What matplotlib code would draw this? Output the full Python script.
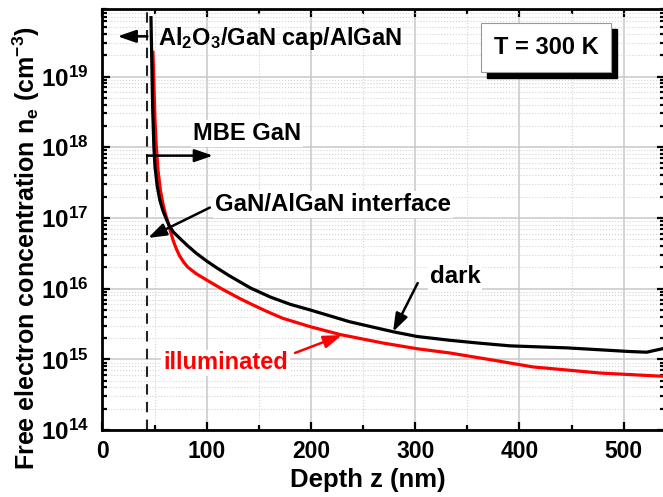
import numpy as np
import matplotlib
matplotlib.use("Agg")
import matplotlib.pyplot as plt
from matplotlib.ticker import MultipleLocator, LogLocator, FuncFormatter, NullFormatter
from matplotlib.transforms import ScaledTranslation

plt.rcParams['font.family'] = ['Liberation Sans', 'DejaVu Sans']
plt.rcParams['font.weight'] = 'bold'
plt.rcParams['mathtext.fontset'] = 'custom'
plt.rcParams['mathtext.rm'] = 'Liberation Sans:bold'
plt.rcParams['mathtext.it'] = 'Liberation Sans:bold'
plt.rcParams['mathtext.bf'] = 'Liberation Sans:bold'

# depth (nm) and free electron concentration (cm^-3)
depth_dark = [46.5, 47.3, 48.2, 49.3, 50.4, 52.5, 55, 58, 61, 64, 68, 75, 82, 90, 100,
              110, 122, 142, 161, 180, 199, 237, 279, 302, 333, 360, 391, 446, 505, 522, 538]
ne_dark = [6.8e19, 1.6e19, 3.2e18, 1.0e18, 5.2e17, 2.8e17, 1.78e17, 1.26e17, 9.8e16, 7.8e16,
           6.3e16, 5.0e16, 4.0e16, 3.16e16, 2.45e16, 1.95e16, 1.51e16, 1.02e16, 7.6e15,
           6.0e15, 5.0e15, 3.4e15, 2.45e15, 2.1e15, 1.86e15, 1.7e15, 1.55e15, 1.45e15,
           1.29e15, 1.26e15, 1.42e15]

depth_ill = [48.4, 49.4, 50.4, 51.5, 53.2, 55.5, 58, 60.5, 63, 65.5, 68, 71, 74, 78, 82,
             90, 100, 115, 132, 142, 157, 173, 199, 228, 269, 302, 333, 370, 413, 477, 538]
ne_ill = [2.2e19, 7.0e18, 2.4e18, 1.1e18, 4.8e17, 2.5e17, 1.58e17, 1.12e17, 8.5e16, 6.2e16,
          4.7e16, 3.6e16, 2.9e16, 2.35e16, 2.0e16, 1.62e16, 1.32e16, 9.8e15, 7.2e15, 6.1e15,
          4.8e15, 3.8e15, 2.9e15, 2.24e15, 1.7e15, 1.41e15, 1.23e15, 1.0e15, 7.8e14, 6.4e14,
          5.75e14]

interface_z = 43

fig = plt.figure(figsize=(6.63, 4.97), dpi=100)
ax = fig.add_axes([0.1546, 0.1348, 0.849, 0.847])

ax.set_yscale('log')
ax.set_xlim(0, 540)
ax.set_ylim(1e14, 9e19)

ax.plot(depth_dark, ne_dark, color='black', lw=2.3, zorder=4, solid_joinstyle='round')
ax.plot(depth_ill, ne_ill, color='red', lw=2.3, zorder=3, solid_joinstyle='round')
ax.axvline(interface_z, color='#222222', lw=1.5, dashes=(5, 3.5), zorder=2)

# grid
ax.set_axisbelow(True)
ax.xaxis.set_major_locator(MultipleLocator(100))
ax.xaxis.set_minor_locator(MultipleLocator(50))
ax.yaxis.set_major_locator(LogLocator(base=10, numticks=20))
ax.yaxis.set_minor_locator(LogLocator(base=10, subs=np.arange(2, 10), numticks=20))
ax.yaxis.set_minor_formatter(NullFormatter())
ax.yaxis.set_major_formatter(FuncFormatter(lambda v, p: r'$10^{%d}$' % round(np.log10(v))))
ax.grid(which='major', color='#c8c8c8', lw=1.1, ls='-')
ax.grid(which='minor', color='#d4d4d4', lw=0.8, ls=':')

for s in ax.spines.values():
    s.set_linewidth(2)
ax.tick_params(which='both', direction='in', top=True, right=True, width=1.6)
ax.tick_params(which='major', length=6)
ax.tick_params(axis='x', which='major', pad=7, labelsize=16.5)
ax.tick_params(axis='y', which='major', pad=10, labelsize=17.5)
ax.tick_params(which='minor', length=3.5)

ax.set_xlabel('Depth z (nm)', fontsize=18.5, fontweight='bold')
ax.set_ylabel('Free electron concentration n$_e$ (cm$^{-3}$)', fontsize=18, fontweight='bold')
ax.xaxis.set_label_coords(0.4716, -0.09)
ax.yaxis.set_label_coords(-0.108, 0.432)

# annotations
arrow = dict(arrowstyle='-|>,head_length=1.1,head_width=0.38', color='black', lw=1.8,
             mutation_scale=10, shrinkA=0, shrinkB=0)
white = dict(boxstyle='square,pad=0.08', fc='white', ec='none')

ax.annotate('', xy=(14.5, 3.7e19), xytext=(interface_z, 3.7e19), arrowprops=arrow, zorder=5)
ax.text(53, 2.8e19, 'Al$_2$O$_3$/GaN cap/AlGaN', fontsize=17, fontweight='bold',
        va='baseline', zorder=6)

ax.annotate('', xy=(106, 7.6e17), xytext=(interface_z, 7.6e17), arrowprops=arrow, zorder=5)
ax.text(87, 1.25e18, 'MBE GaN', fontsize=17, fontweight='bold', va='baseline',
        bbox=white, zorder=6)

ax.annotate('', xy=(43.7, 5.2e16), xytext=(103, 1.4e17), arrowprops=arrow, zorder=5)
ax.text(108, 1.25e17, 'GaN/AlGaN interface', fontsize=17.3, fontweight='bold', va='baseline',
        bbox=white, zorder=6)

ax.annotate('', xy=(278.7, 2.45e15), xytext=(302.4, 1.2e16), arrowprops=arrow, zorder=5)
ax.text(314, 1.2e16, 'dark', fontsize=17.3, fontweight='bold', va='baseline',
        bbox=white, zorder=6)

arrow_red = dict(arrow, color='red')
ax.annotate('', xy=(229.7, 2.2e15), xytext=(184.7, 1.23e15), arrowprops=arrow_red, zorder=5)
ax.text(58, 7.2e14, 'illuminated', fontsize=17, fontweight='bold', color='red',
        va='baseline', bbox=white, zorder=6)

# temperature box with shadow
shadow = ax.transAxes + ScaledTranslation(6 / 100, -6 / 100, fig.dpi_scale_trans)
ax.text(0.788, 0.9086, 'T = 300 K', transform=shadow, ha='center', va='center',
        fontsize=17, fontweight='bold', color='black',
        bbox=dict(boxstyle='square,pad=0.55', fc='black', ec='black'), zorder=6)
ax.text(0.788, 0.9086, 'T = 300 K', transform=ax.transAxes, ha='center', va='center',
        fontsize=17, fontweight='bold',
        bbox=dict(boxstyle='square,pad=0.55', fc='white', ec='#999999', lw=0.8), zorder=7)

fig.savefig('out.png', dpi=100)
